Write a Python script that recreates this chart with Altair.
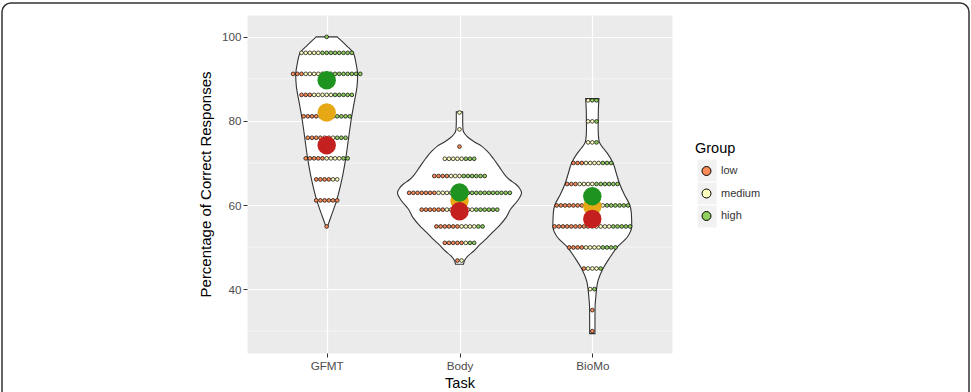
import altair as alt
import pandas as pd

TASKS = ["GFMT", "Body", "BioMo"]
GROUPS = ["low", "medium", "high"]
DOT_COLORS = ["#fc8d59", "#ffffbf", "#91cf60"]
MEAN_COLORS = ["#c42020", "#e6a814", "#1f931f"]

# Violin outlines: y value and half width (in category-spacing units)
GFMT_VY = [54.9, 57.2, 61.1, 65.9, 71.4, 76.2, 81.0, 84.7, 88.1, 90.9, 93.7, 96.2, 98.1, 100.0]
GFMT_VW = [0.006, 0.032, 0.075, 0.113, 0.145, 0.166, 0.188, 0.209, 0.228, 0.233, 0.221, 0.200, 0.143, 0.079]
BODY_VY = [45.9, 47.0, 48.0, 49.0, 50.5, 52.0, 53.5, 55.0, 57.0, 59.0, 61.0, 62.9, 64.0, 65.0, 66.0, 67.0,
           69.0, 71.0, 73.0, 74.0, 75.0, 76.0, 77.0, 78.0, 80.0, 82.2]
BODY_VW = [0.030, 0.041, 0.068, 0.105, 0.151, 0.203, 0.248, 0.297, 0.350, 0.384, 0.437, 0.467, 0.452, 0.422,
           0.377, 0.346, 0.301, 0.256, 0.203, 0.166, 0.113, 0.068, 0.038, 0.026, 0.024, 0.024]
BIOMO_VY = [29.4, 33.0, 36.0, 38.0, 40.0, 42.0, 44.9, 47.5, 50.0, 52.4, 55.0, 58.0, 60.0, 62.5, 65.0, 67.5,
            70.0, 72.0, 73.5, 74.5, 75.5, 78.0, 82.0, 85.3]
BIOMO_VW = [0.020, 0.020, 0.021, 0.026, 0.032, 0.043, 0.081, 0.132, 0.188, 0.264, 0.297, 0.294, 0.282, 0.241,
            0.206, 0.181, 0.156, 0.120, 0.083, 0.060, 0.049, 0.044, 0.045, 0.050]

# Dot-plot rows: bin centre and counts per group
GFMT_ROWS = [100.0, 96.2, 91.2, 86.2, 81.1, 76.0, 71.1, 66.1, 61.1, 54.9]
GFMT_LOW = [0, 0, 3, 3, 4, 4, 5, 4, 6, 1]
GFMT_MED = [0, 5, 7, 5, 4, 3, 4, 2, 0, 0]
GFMT_HIGH = [1, 8, 7, 5, 4, 3, 2, 0, 0, 0]

BODY_ROWS = [82.0, 78.0, 73.9, 71.0, 66.9, 62.9, 58.9, 54.9, 51.0, 46.8]
BODY_LOW = [0, 0, 1, 0, 4, 7, 6, 6, 5, 1]
BODY_MED = [1, 1, 0, 5, 3, 7, 7, 4, 1, 1]
BODY_HIGH = [0, 0, 0, 3, 6, 11, 6, 2, 2, 0]

BIOMO_ROWS = [84.9, 79.9, 74.9, 70.0, 65.0, 59.9, 54.9, 49.9, 44.9, 40.0, 35.0, 30.0]
BIOMO_LOW = [0, 0, 0, 3, 3, 8, 9, 4, 1, 0, 1, 1]
BIOMO_MED = [1, 2, 2, 4, 4, 4, 5, 4, 3, 1, 0, 0]
BIOMO_HIGH = [2, 1, 1, 3, 6, 6, 5, 4, 1, 1, 0, 0]

# Group means per task
MEAN_LOW = [74.2, 58.5, 56.7]
MEAN_MED = [82.0, 61.0, 59.7]
MEAN_HIGH = [89.7, 63.0, 62.1]

DOT_STEP = 0.0316  # dot diameter in category units

# ---- build tables ----
violins = [(GFMT_VY, GFMT_VW), (BODY_VY, BODY_VW), (BIOMO_VY, BIOMO_VW)]
vrows = []
for i, (task, (vy, vw)) in enumerate(zip(TASKS, violins)):
    c = i + 1
    for y, w in zip(vy, vw):
        vrows.append({"task": task, "y": y, "lo": c - w, "hi": c + w})
violin_df = pd.DataFrame(vrows)

dots_src = [
    (GFMT_ROWS, GFMT_LOW, GFMT_MED, GFMT_HIGH),
    (BODY_ROWS, BODY_LOW, BODY_MED, BODY_HIGH),
    (BIOMO_ROWS, BIOMO_LOW, BIOMO_MED, BIOMO_HIGH),
]
drows = []
for i, (rows, lo, me, hi) in enumerate(dots_src):
    c = i + 1
    for r, a, b, d in zip(rows, lo, me, hi):
        seq = ["low"] * a + ["medium"] * b + ["high"] * d
        n = len(seq)
        for k, g in enumerate(seq):
            drows.append({"task": TASKS[i], "y": r, "x": c + (k - (n - 1) / 2) * DOT_STEP, "group": g})
dots_df = pd.DataFrame(drows)

mrows = []
for i, task in enumerate(TASKS):
    mrows.append({"task": task, "x": i + 1, "y": MEAN_MED[i], "group": "medium", "z": 0})
    mrows.append({"task": task, "x": i + 1, "y": MEAN_LOW[i], "group": "low", "z": 1})
    mrows.append({"task": task, "x": i + 1, "y": MEAN_HIGH[i], "group": "high", "z": 2})
means_df = pd.DataFrame(mrows)

minor_df = pd.DataFrame({"y": [30, 50, 70, 90]})

xscale = alt.Scale(domain=[0.4, 3.6], nice=False, zero=False)
yscale = alt.Scale(domain=[24.8, 105.2], nice=False, zero=False)

xaxis = alt.Axis(
    values=[1, 2, 3],
    labelExpr="['', 'GFMT', 'Body', 'BioMo'][datum.value]",
    title="Task", grid=True, gridColor="white", gridWidth=1.2,
    domain=False, tickColor="#333333", tickSize=4, tickWidth=1,
    labelColor="#4d4d4d", labelFontSize=11.7, labelPadding=3,
    titleFontSize=14.5, titleColor="black", titleFontWeight="normal", titlePadding=5,
)
yaxis = alt.Axis(
    values=[40, 60, 80, 100],
    title="Percentage of Correct Responses", grid=True, gridColor="white", gridWidth=1.2,
    domain=False, tickColor="#333333", tickSize=4, tickWidth=1,
    labelColor="#4d4d4d", labelFontSize=11.7, labelPadding=2,
    titleFontSize=15, titleColor="black", titleFontWeight="normal", titlePadding=8,
)

minor = alt.Chart(minor_df).mark_rule(color="white", strokeWidth=0.6).encode(
    y=alt.Y("y:Q", scale=yscale, axis=yaxis)
)

violin = alt.Chart(violin_df).mark_area(
    orient="horizontal", fill="white", stroke="#333333", strokeWidth=1.1, interpolate="monotone"
).encode(
    y=alt.Y("y:Q", scale=yscale, axis=yaxis),
    x=alt.X("lo:Q", scale=xscale, axis=xaxis),
    x2="hi:Q",
    detail="task:N",
)

dots = alt.Chart(dots_df).mark_circle(size=14, stroke="black", strokeWidth=0.7, opacity=1).encode(
    x=alt.X("x:Q", scale=xscale, axis=xaxis),
    y=alt.Y("y:Q", scale=yscale, axis=yaxis),
    fill=alt.Fill(
        "group:N",
        scale=alt.Scale(domain=GROUPS, range=DOT_COLORS),
        legend=alt.Legend(
            title="Group", orient="none", legendX=448, legendY=127,
            titleFontSize=14.5, titleColor="black", titleFontWeight="normal", titlePadding=9,
            labelFontSize=11, labelColor="#333333", labelOffset=9,
            symbolType="circle", symbolSize=80, symbolStrokeColor="black", symbolStrokeWidth=1,
            symbolOffset=6, rowPadding=9.5,
        ),
    ),
)

means = alt.Chart(means_df).mark_circle(size=340, opacity=1).encode(
    x=alt.X("x:Q", scale=xscale, axis=xaxis),
    y=alt.Y("y:Q", scale=yscale, axis=yaxis),
    color=alt.Color("group:N", scale=alt.Scale(domain=GROUPS, range=MEAN_COLORS), legend=None),
    order=alt.Order("z:Q"),
)

one = pd.DataFrame({"a": [0]})
frame = alt.Chart(one).mark_rect(
    fillOpacity=0, stroke="#333333", strokeWidth=1.5, cornerRadius=9
).encode(
    x=alt.value(-245), x2=alt.value(722), y=alt.value(-12), y2=alt.value(395)
)

# legend key backgrounds (decoration, like ggplot's grey key boxes)
keys = [
    alt.Chart(one).mark_rect(fill="#f2f2f2", stroke="white", strokeWidth=1).encode(
        x=alt.value(450), x2=alt.value(470), y=alt.value(y0), y2=alt.value(y0 + 23)
    )
    for y0 in (144, 167, 190)
]

chart = alt.layer(minor, violin, dots, means, frame, *keys).properties(
    width=425, height=338,
    autosize=alt.AutoSizeParams(type="none"),
    padding={"left": 247, "top": 15, "right": 299, "bottom": 39},
).configure(
    font="Liberation Sans",
).configure_view(
    fill="#ebebeb", stroke="transparent",
)

chart.save("out.html", embed_options={"renderer": "svg", "actions": False})
